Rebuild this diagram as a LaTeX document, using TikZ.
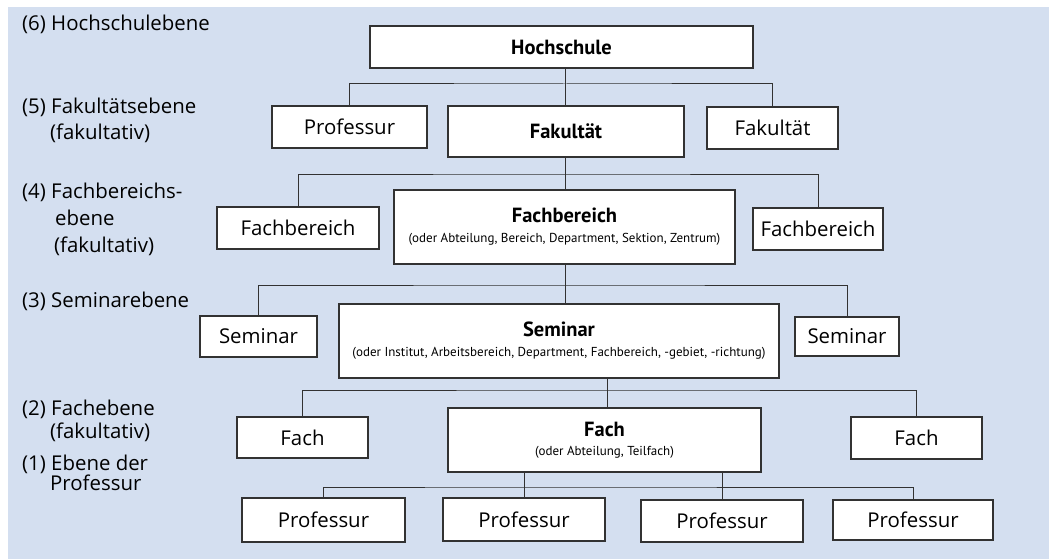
\documentclass[tikz,border=0pt]{standalone}
\usepackage{fontspec}
\setmainfont{Open Sans}
\newfontfamily\headfont{PT Sans}
\usepackage{tikz}
\usetikzlibrary{positioning}
\definecolor{panel}{RGB}{212,223,240}
\definecolor{edge}{RGB}{50,50,50}
\newcommand{\smallnote}{\headfont\mdseries\fontsize{13}{15}\selectfont}

\begin{document}
\begin{tikzpicture}[x=1pt, y=-1pt,
    unit/.style={draw=edge, fill=white, line width=1.3pt, minimum height=42, inner sep=0pt, font=\fontsize{20.4}{22}\selectfont},
    head/.style={unit, align=center, font=\headfont\bfseries\fontsize{20.5}{22}\selectfont},
    level/.style={anchor=north west, align=left, inner sep=0pt, font=\fontsize{20.4}{21}\selectfont},
    link/.style={draw=edge, line width=1pt}
]
\useasboundingbox (0,0) rectangle (1049,559);
\fill[panel] (8,7) rectangle (1049,559);
\node[level] (l6) at (22,15) {(6) Hochschulebene};
\node[level] (l5) at (22,98) {(5) Fakult\"atsebene\\[5pt]\hspace*{28pt}(fakultativ)};
\node[level] (l4) at (22,183) {(4) Fachbereichs-\\[6pt]\hspace*{33pt}ebene\\[6pt]\hspace*{32pt}(fakultativ)};
\node[level] (l3) at (22,292) {(3) Seminarebene};
\node[level] (l2) at (22,400) {(2) Fachebene\\[2pt]\hspace*{28pt}(fakultativ)};
\node[level] (l1) at (22,455) {(1) Ebene der\\[-1pt]\hspace*{28pt}Professur};
\node[head, minimum width=383] (hs) at (561.5,47) {Hochschule};
\node[unit, minimum width=155] (prof5) at (349.5,127) {Professur};
\node[head, minimum width=236, minimum height=51] (fak5) at (566,131.5) {Fakult\"at};
\node[unit, minimum width=131] (fak5r) at (772.5,128) {Fakult\"at};
\node[unit, minimum width=162] (fb4l) at (298,228) {Fachbereich};
\node[head, minimum width=341, minimum height=74] (fb4) at (564.5,227) {Fachbereich\\[-2pt]{\smallnote (oder Abteilung, Bereich, Department, Sektion, Zentrum)}};
\node[unit, minimum width=130] (fb4r) at (818,229) {Fachbereich};
\node[unit, minimum width=117, minimum height=41] (sem3l) at (258.5,336.5) {Seminar};
\node[head, minimum width=440, minimum height=74] (sem3) at (559,341) {Seminar\\[-2pt]{\smallnote (oder Institut, Arbeitsbereich, Department, Fachbereich, -gebiet, -richtung)}};
\node[unit, minimum width=104, minimum height=39] (sem3r) at (847,336.5) {Seminar};
\node[unit, minimum width=131, minimum height=41] (fach2l) at (302.5,437.5) {Fach};
\node[head, minimum width=313, minimum height=64] (fach2) at (604.5,440) {Fach\\[-3pt]{\smallnote (oder Abteilung, Teilfach)}};
\node[unit, minimum width=131] (fach2r) at (916.5,438) {Fach};
\node[unit, minimum width=163, minimum height=44] (p1) at (323.5,520) {Professur};
\node[unit, minimum width=162, minimum height=43] (p2) at (524,519.5) {Professur};
\node[unit, minimum width=162] (p3) at (722,521) {Professur};
\node[unit, minimum width=160, minimum height=40] (p4) at (913,520) {Professur};
\coordinate (j5) at (565,84);
\coordinate (j4) at (565,174);
\coordinate (j3) at (565,285);
\coordinate (j2) at (607,390);
\coordinate (j1) at (524,487);
\draw[link] (j5 |- hs.south) -- (j5 |- fak5.north);
\draw[link] (prof5.north) |- (j5) -| (fak5r.north);
\draw[link] (j4 |- fak5.south) -- (j4 |- fb4.north);
\draw[link] (fb4l.north) |- (j4) -| (fb4r.north);
\draw[link] (j3 |- fb4.south) -- (j3 |- sem3.north);
\draw[link] (sem3l.north) |- (j3) -| (sem3r.north);
\draw[link] (j2 |- sem3.south) -- (j2 |- fach2.north);
\draw[link] (fach2l.north) |- (j2) -| (fach2r.north);
\draw[link] (p1.north) |- (j1) -| (p4.north);
\draw[link] (p2.north) -- (p2.north |- fach2.south);
\draw[link] (p3.north) -- (p3.north |- fach2.south);
\end{tikzpicture}
\end{document}
